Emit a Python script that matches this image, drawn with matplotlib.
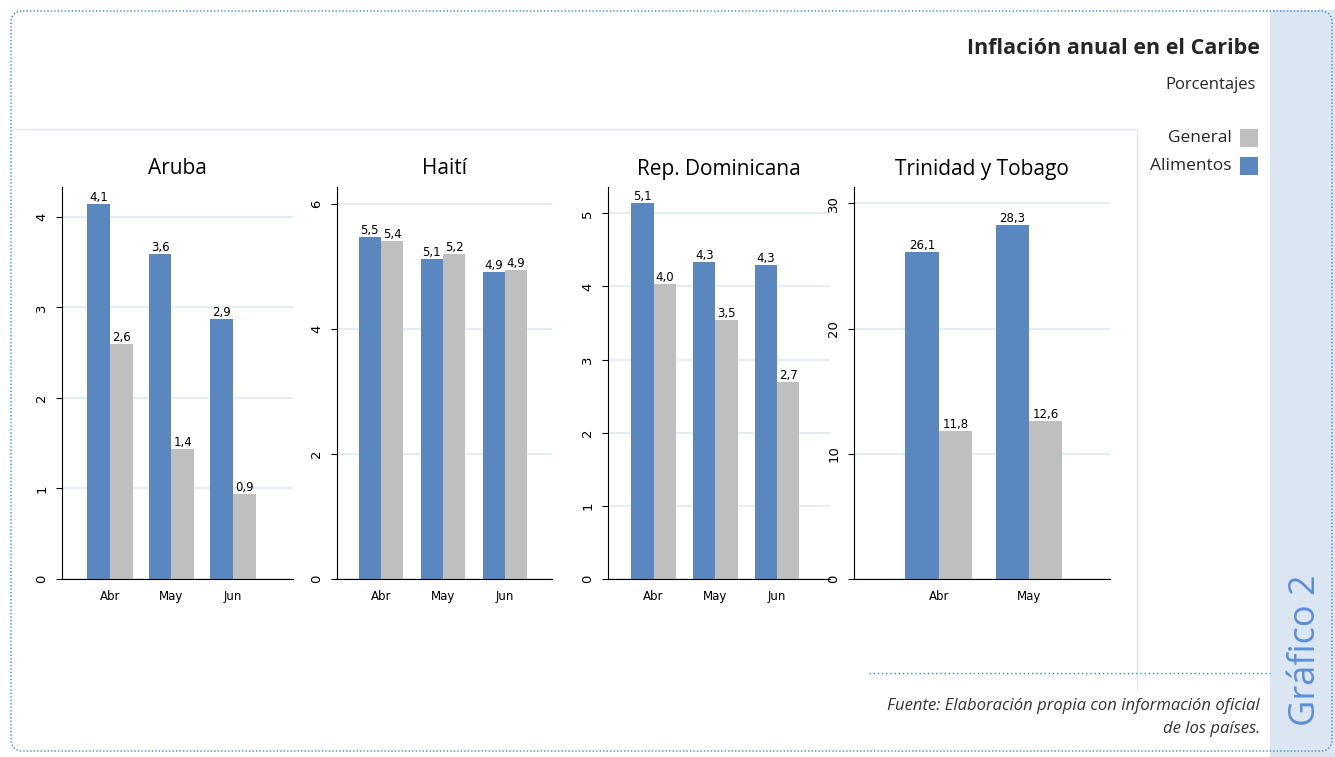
import numpy as np
import matplotlib.pyplot as plt
from matplotlib.patches import FancyBboxPatch, Rectangle

# data
months = ['Abr', 'May', 'Jun']
aruba_alim = [4.14, 3.59, 2.87]
aruba_gen = [2.60, 1.44, 0.94]
haiti_alim = [5.47, 5.12, 4.91]
haiti_gen = [5.41, 5.20, 4.94]
rd_alim = [5.14, 4.33, 4.29]
rd_gen = [4.03, 3.54, 2.70]
tt_months = ['Abr', 'May']
tt_alim = [26.1, 28.3]
tt_gen = [11.8, 12.6]

blue = '#5b87c0'
gray = '#bfbfbf'
W, H = 1335, 757

fig = plt.figure(figsize=(W / 100, H / 100), dpi=100)

# background layer in pixel coordinates
bg = fig.add_axes([0, 0, 1, 1], zorder=-1)
bg.set_xlim(0, W)
bg.set_ylim(H, 0)
bg.axis('off')
bg.add_patch(Rectangle((1270, 10), 65, 747, facecolor='#dce6f2', edgecolor='none'))
bg.add_patch(FancyBboxPatch((11, 11), 1321, 740, boxstyle='round,pad=0,rounding_size=12',
                            facecolor='none', edgecolor='#2a8ad4', linestyle=(0, (1, 1.5)), linewidth=1))
bg.plot([10, 1137], [129, 129], color='#e4e8ec', lw=1)
bg.plot([1137, 1137], [129, 690], color='#e4e8ec', lw=1)
bg.plot([869, 1270], [673, 673], color='#2a8ad4', lw=1, linestyle=(0, (1, 2)))

fig.text(1260 / W, 1 - 48 / H, 'Inflación anual en el Caribe', ha='right', va='center',
         fontsize=15.5, fontweight='bold', color='#262626', family='Open Sans')
fig.text(1256 / W, 1 - 85 / H, 'Porcentajes', ha='right', va='center',
         fontsize=12, color='#262626', family='Open Sans')

# legend
bg.add_patch(Rectangle((1240, 129), 18, 18, facecolor=gray, edgecolor='none'))
bg.add_patch(Rectangle((1240, 157), 18, 18, facecolor=blue, edgecolor='none'))
fig.text(1232 / W, 1 - 138 / H, 'General', ha='right', va='center', fontsize=12.5, color='#262626', family='Open Sans')
fig.text(1232 / W, 1 - 166 / H, 'Alimentos', ha='right', va='center', fontsize=12.5, color='#262626', family='Open Sans')

fig.text(1306 / W, 1 - 650 / H, 'Gráfico 2', rotation=90, ha='center', va='center',
         fontsize=26, color='#5b8fd6', family='Open Sans')

fig.text(1260 / W, 1 - 706 / H, 'Fuente: Elaboración propia con información oficial', ha='right', va='center',
         fontsize=12, style='italic', color='#333333', family='Open Sans')
fig.text(1260 / W, 1 - 729 / H, 'de los países.', ha='right', va='center',
         fontsize=12, style='italic', color='#333333', family='Open Sans')


def panel(left, right, title, cats, alim, gen, xl, yl, yticks, width):
    ax = fig.add_axes([left / W, 1 - 579 / H, (right - left) / W, (579 - 187) / H])
    x = np.arange(len(cats))
    ax.bar(x - width / 2, alim, width, color=blue, zorder=2)
    ax.bar(x + width / 2, gen, width, color=gray, zorder=2)
    for xi, a, g in zip(x, alim, gen):
        ax.text(xi - width / 2, a, f'{a:.1f}'.replace('.', ','), ha='center', va='bottom', fontsize=8.5)
        ax.text(xi + width / 2, g, f'{g:.1f}'.replace('.', ','), ha='center', va='bottom', fontsize=8.5)
    ax.set_xlim(*xl)
    ax.set_ylim(*yl)
    ax.set_yticks(yticks)
    ax.set_yticklabels([str(t) for t in yticks], rotation=90, va='center', fontsize=9.5)
    ax.set_xticks(x)
    ax.set_xticklabels(cats, fontsize=8.5)
    ax.tick_params(axis='x', length=0, pad=8)
    ax.tick_params(axis='y', length=4, pad=6)
    ax.grid(axis='y', color='#e3edf3', lw=1.5, zorder=0)
    for s in ['top', 'right']:
        ax.spines[s].set_visible(False)
    ax.set_title(title, fontsize=15, pad=9, family='Open Sans')
    ax.set_facecolor('none')
    return ax


panel(62, 293, 'Aruba', months, aruba_alim, aruba_gen, (-0.78, 2.98), (0, 4.33), [0, 1, 2, 3, 4], 0.37)
panel(337, 552, 'Haití', months, haiti_alim, haiti_gen, (-0.71, 2.76), (0, 6.27), [0, 2, 4, 6], 0.36)
panel(608, 830, 'Rep. Dominicana', months, rd_alim, rd_gen, (-0.74, 2.86), (0, 5.36), [0, 1, 2, 3, 4, 5], 0.36)
panel(854, 1110, 'Trinidad y Tobago', tt_months, tt_alim, tt_gen, (-0.94, 1.9), (0, 31.3), [0, 10, 20, 30], 0.37)

fig.savefig('out.png', dpi=100)
